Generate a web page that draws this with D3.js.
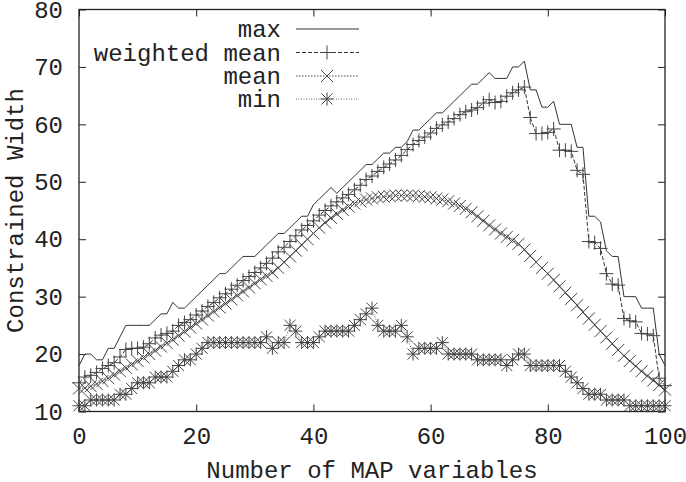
<!DOCTYPE html>
<html>
<head>
<meta charset="utf-8">
<script src="https://cdn.jsdelivr.net/npm/d3@7"></script>
<style>
  body { margin: 0; background: #fff; }
  text { font-family: "Liberation Mono", "DejaVu Sans Mono", monospace; fill: #222; }
</style>
</head>
<body>
<div id="vis"></div>
<script>
// chart data
var xTicks = [0, 20, 40, 60, 80, 100];
var yTicks = [10, 20, 30, 40, 50, 60, 70, 80];
var seriesNames = ["max", "weighted mean", "mean", "min"];
var mapVariables = d3.range(0, 101);

var maxWidth = [18, 20, 20, 19, 19, 21, 21, 23, 25, 25, 25, 25, 25, 26, 27, 27, 29, 28, 28, 29,
  30, 31, 32, 33, 34, 34, 35, 36, 37, 37, 37, 38, 39, 40, 41, 41, 42, 43, 44, 44,
  46, 47, 48, 49, 48, 49, 50, 51, 52, 53, 53, 54, 55, 55, 56, 56, 57, 59, 59, 60,
  61, 62, 62, 63, 64, 65, 66, 67, 67, 68, 69, 68, 68, 68, 70, 70, 71, 66, 66, 63,
  63, 64, 60, 60, 60, 56, 56, 44, 44, 43, 38, 37, 37, 30, 30, 30, 28, 28, 28, 20, 18];

var weightedMean = [15.0, 16.0, 16.3, 16.8, 17.5, 18.0, 18.5, 19.5, 20.8, 21.0, 21.0, 21.2, 21.8, 22.8, 23.3, 23.6, 24.0, 25.0, 25.5, 26.0,
  26.8, 27.5, 28.3, 29.0, 29.8, 30.5, 31.3, 32.0, 32.8, 33.5, 34.2, 35.0, 35.8, 36.7, 37.8, 38.6, 39.6, 40.6, 41.6, 42.4,
  43.2, 44.2, 45.0, 45.8, 46.5, 47.2, 47.8, 48.6, 49.4, 50.4, 51.0, 51.8, 52.5, 53.1, 53.8, 54.6, 55.6, 56.5, 57.2, 57.8,
  58.5, 59.3, 59.9, 60.4, 61.0, 61.7, 62.2, 62.5, 62.9, 63.7, 64.3, 63.8, 64.0, 64.9, 65.5, 66.0, 66.5, 61.2, 58.4, 58.4,
  58.6, 59.2, 55.5, 55.5, 55.3, 52.0, 51.3, 39.6, 39.4, 38.4, 34.0, 32.2, 32.0, 26.2, 25.8, 25.6, 23.6, 23.5, 23.2, 15.8, 14.5];

var meanWidth = [14.0, 14.1, 14.4, 14.8, 15.3, 15.8, 16.4, 17.0, 17.6, 18.2, 18.8, 19.4, 20.0, 20.6, 21.3, 21.9, 22.5, 23.2, 23.9, 24.6,
  25.3, 26.0, 26.7, 27.4, 28.1, 28.8, 29.5, 30.2, 30.9, 31.6, 32.3, 33.0, 33.6, 34.2, 35.0, 36.0, 37.0, 38.0, 39.0, 40.0,
  41.0, 42.0, 42.9, 43.7, 44.4, 45.1, 45.7, 46.2, 46.6, 46.9, 47.1, 47.3, 47.4, 47.5, 47.6, 47.6, 47.6, 47.6, 47.5, 47.4,
  47.3, 47.1, 46.9, 46.6, 46.2, 45.8, 45.3, 44.7, 44.0, 43.2, 42.4, 41.7, 41.0, 40.4, 39.8, 39.2, 38.2, 37.1, 36.0, 35.0,
  34.0, 32.9, 31.8, 30.7, 29.6, 28.5, 27.3, 26.2, 25.1, 24.0, 22.9, 21.8, 20.7, 19.7, 18.8, 17.9, 17.0, 16.2, 15.4, 14.6, 13.8];

var minWidth = [11, 11, 12, 12, 12, 12, 12, 13, 13, 14, 15, 15, 15, 16, 16, 16, 17, 18, 19, 19,
  20, 21, 22, 22, 22, 22, 22, 22, 22, 22, 22, 22, 23, 21, 22, 22, 25, 24, 22, 22,
  22, 23, 24, 24, 24, 24, 24, 25, 26, 27, 28, 25, 24, 24, 24, 25, 23, 20, 21, 21,
  21, 21, 22, 20, 20, 20, 20, 20, 19, 19, 19, 19, 19, 18, 19, 20, 20, 18, 18, 18,
  18, 18, 18, 17, 16, 15, 14, 13, 13, 13, 12, 12, 12, 12, 11, 11, 11, 11, 11, 11, 11];

// gnuplot style point types, size = (2r)^2
var plusType = {
  draw: function(ctx, size) {
    var r = Math.sqrt(size) / 2;
    ctx.moveTo(-r, 0); ctx.lineTo(r, 0);
    ctx.moveTo(0, -r); ctx.lineTo(0, r);
  }
};
var timesType = {
  draw: function(ctx, size) {
    var r = Math.sqrt(size) / 2;
    ctx.moveTo(-r, -r); ctx.lineTo(r, r);
    ctx.moveTo(-r, r); ctx.lineTo(r, -r);
  }
};
var starType = {
  draw: function(ctx, size) {
    var r = Math.sqrt(size) / 2;
    var d = r * 0.85;
    ctx.moveTo(-r, 0); ctx.lineTo(r, 0);
    ctx.moveTo(0, -r); ctx.lineTo(0, r);
    ctx.moveTo(-d, -d); ctx.lineTo(d, d);
    ctx.moveTo(-d, d); ctx.lineTo(d, -d);
  }
};

var series = [
  { name: seriesNames[0], values: maxWidth, dash: null, stroke: "#333", symbol: null, size: 0 },
  { name: seriesNames[1], values: weightedMean, dash: "4,2", stroke: "#333", symbol: plusType, size: 196 },
  { name: seriesNames[2], values: meanWidth, dash: "1.5,1.5", stroke: "#444", symbol: timesType, size: 144 },
  { name: seriesNames[3], values: minWidth, dash: "1,1.5", stroke: "#666", symbol: starType, size: 169 }
];

var width = 686, height = 482;
var plotLeft = 79, plotRight = 665, plotTop = 9.5, plotBottom = 411.5;

var svg = d3.select("#vis").append("svg")
  .attr("width", width)
  .attr("height", height)
  .style("display", "block");

svg.append("rect").attr("width", width).attr("height", height).attr("fill", "#fff");

var x = d3.scaleLinear().domain([0, 100]).range([plotLeft, plotRight]);
var y = d3.scaleLinear().domain([10, 80]).range([plotBottom, plotTop]);

function styleAxis(g)
{
  g.select(".domain").remove();
  g.selectAll(".tick line").attr("stroke", "#222").attr("stroke-width", 1);
  g.selectAll(".tick text")
    .style("font-family", "'Liberation Mono', monospace")
    .style("font-size", "24px")
    .attr("fill", "#222");
}

// axes, ticks pointing inward and mirrored
svg.append("g")
  .attr("transform", "translate(0," + plotBottom + ")")
  .call(d3.axisBottom(x).tickValues(xTicks).tickSize(-7).tickPadding(15))
  .call(styleAxis);
svg.append("g")
  .attr("transform", "translate(0," + plotTop + ")")
  .call(d3.axisTop(x).tickValues(xTicks).tickSize(-7).tickFormat(""))
  .call(styleAxis);
svg.append("g")
  .attr("transform", "translate(" + plotLeft + ",0)")
  .call(d3.axisLeft(y).tickValues(yTicks).tickSize(-7).tickPadding(16))
  .call(styleAxis);
svg.append("g")
  .attr("transform", "translate(" + plotRight + ",0)")
  .call(d3.axisRight(y).tickValues(yTicks).tickSize(-7).tickFormat(""))
  .call(styleAxis);

svg.append("rect")
  .attr("x", plotLeft).attr("y", plotTop)
  .attr("width", plotRight - plotLeft).attr("height", plotBottom - plotTop)
  .attr("fill", "none")
  .attr("stroke", "#222")
  .attr("stroke-width", 1.3);

// series lines and points
var line = d3.line()
  .x(function(d, i) { return x(mapVariables[i]); })
  .y(function(d) { return y(d); });

series.forEach(function(s)
{
  svg.append("path")
    .datum(s.values)
    .attr("d", line)
    .attr("fill", "none")
    .attr("stroke", s.stroke)
    .attr("stroke-width", 1)
    .attr("stroke-dasharray", s.dash);

  if (s.symbol)
  {
    var sym = d3.symbol().type(s.symbol).size(s.size);
    svg.append("g").selectAll("path")
      .data(s.values)
      .join("path")
      .attr("transform", function(d, i) { return "translate(" + x(mapVariables[i]) + "," + y(d) + ")"; })
      .attr("d", sym)
      .attr("fill", "none")
      .attr("stroke", "#444")
      .attr("stroke-width", 1);
  }
});

// legend
var legendY = [29, 52.5, 76, 99];
var legend = svg.append("g");
series.forEach(function(s, i)
{
  var ly = legendY[i];
  legend.append("text")
    .attr("x", 281).attr("y", ly)
    .attr("dy", "0.35em")
    .attr("text-anchor", "end")
    .style("font-size", "24px")
    .text(s.name);
  legend.append("line")
    .attr("x1", 296).attr("x2", 359)
    .attr("y1", ly).attr("y2", ly)
    .attr("stroke", s.stroke)
    .attr("stroke-width", 1)
    .attr("stroke-dasharray", s.dash);
  if (s.symbol)
  {
    legend.append("path")
      .attr("transform", "translate(327," + ly + ")")
      .attr("d", d3.symbol().type(s.symbol).size(s.size)())
      .attr("fill", "none")
      .attr("stroke", "#444")
      .attr("stroke-width", 1);
  }
});

// axis titles
svg.append("text")
  .attr("x", (plotLeft + plotRight) / 2).attr("y", 478)
  .attr("text-anchor", "middle")
  .style("font-size", "24px")
  .text("Number of MAP variables");

svg.append("text")
  .attr("transform", "translate(23," + ((plotTop + plotBottom) / 2) + ") rotate(-90)")
  .attr("text-anchor", "middle")
  .style("font-size", "24px")
  .text("Constrained Width");
</script>
</body>
</html>
